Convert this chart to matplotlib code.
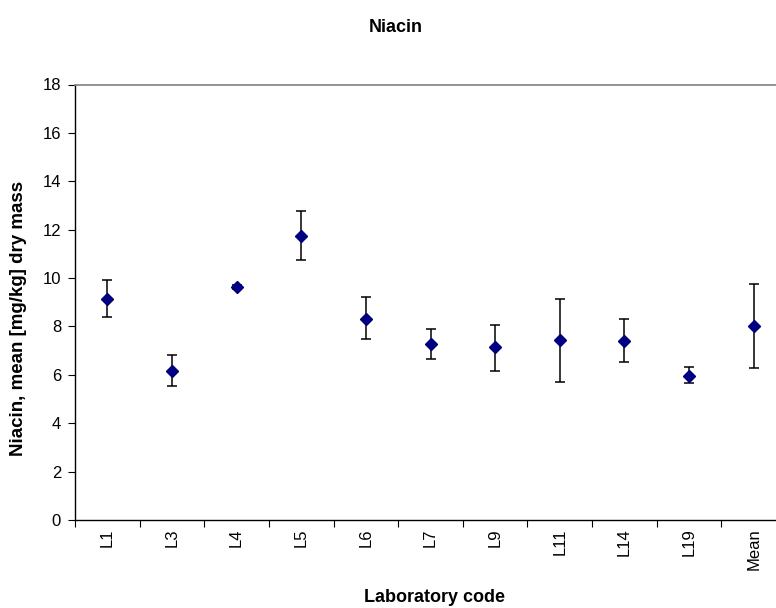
import numpy as np
import matplotlib.pyplot as plt

plt.rcParams['font.family'] = ['Liberation Sans', 'DejaVu Sans']

labs = ['L1', 'L3', 'L4', 'L5', 'L6', 'L7', 'L9', 'L11', 'L14', 'L19', 'Mean']
means = [9.13, 6.15, 9.64, 11.75, 8.32, 7.27, 7.14, 7.46, 7.39, 5.96, 8.01]
upper = [9.94, 6.84, 9.72, 12.78, 9.20, 7.90, 8.08, 9.13, 8.32, 6.34, 9.76]
lower = [8.39, 5.53, 9.56, 10.75, 7.50, 6.66, 6.15, 5.71, 6.51, 5.66, 6.29]

means = np.array(means)
err = [means - np.array(lower), np.array(upper) - means]

fig = plt.figure(figsize=(7.76, 6.08), dpi=100)
ax = fig.add_axes([75/776, 88/608, 711/776, 435.5/608])

x = np.arange(len(labs)) + 0.5
ax.errorbar(x, means, yerr=err, fmt='D', color='#000080', markersize=6.5,
            ecolor='black', elinewidth=1.1, capsize=3.8, capthick=1.1)

ax.set_xlim(0, len(labs))
ax.set_ylim(0, 18)
ax.set_yticks(range(0, 19, 2))
ax.set_xticks(x)
ax.set_xticklabels(labs, rotation=90, fontsize=12)
ax.set_xticks(np.arange(len(labs) + 1), minor=True)
ax.tick_params(axis='x', which='major', length=0, pad=6)
ax.tick_params(axis='x', which='minor', length=5, direction='out', width=0.8)
ax.tick_params(axis='y', length=5, direction='out', width=0.8, labelsize=12, pad=5)

ax.spines['right'].set_visible(False)
ax.spines['top'].set_color('#808080')
ax.spines['top'].set_linewidth(1.2)
ax.spines['left'].set_linewidth(1)
ax.spines['bottom'].set_linewidth(1)

fig.text(18.5/776, 1 - 318/608, 'Niacin, mean [mg/kg] dry mass', rotation=90,
         ha='center', va='center', fontsize=13.5, fontweight='bold')
fig.text(435/776, 1 - 598/608, 'Laboratory code', ha='center', va='center',
         fontsize=13, fontweight='bold')
fig.text(396/776, 1 - 27/608, 'Niacin', ha='center', va='center',
         fontsize=13, fontweight='bold')

fig.savefig('out.png', dpi=100)
